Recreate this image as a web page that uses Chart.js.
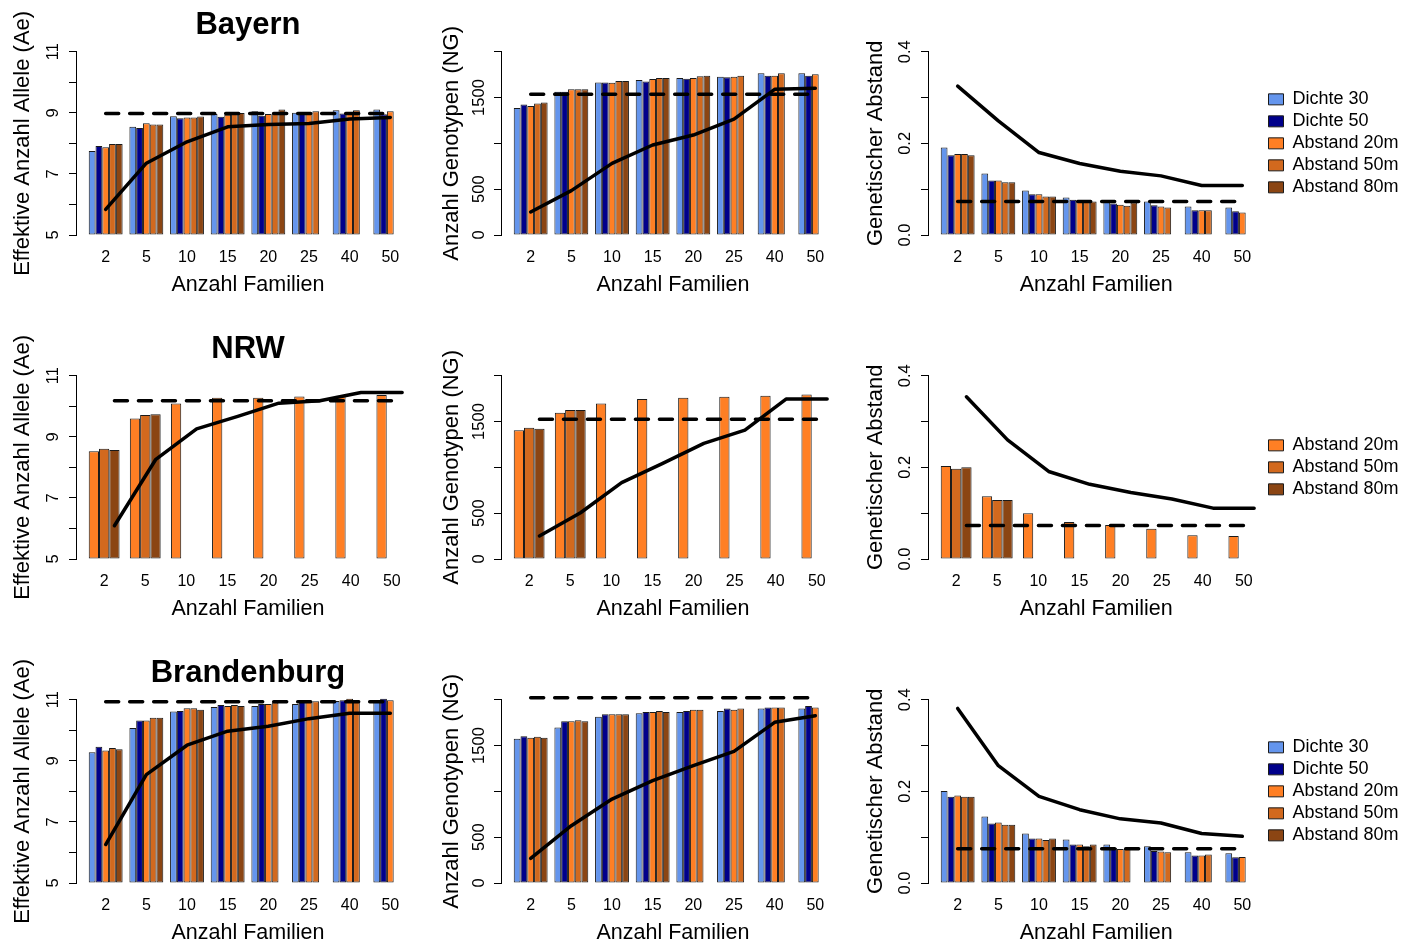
<!DOCTYPE html>
<html lang="de">
<head>
<meta charset="utf-8">
<title>Anzahl Familien – Bayern, NRW, Brandenburg</title>
<script src="https://cdn.jsdelivr.net/npm/chart.js@4.4.1/dist/chart.umd.min.js"></script>
<style>
  html, body { margin: 0; padding: 0; background: #fff; overflow: hidden; }
  canvas { position: absolute; }
</style>
</head>
<body>
<script>
// Kategorien und Reihen
const familien = ['2', '5', '10', '15', '20', '25', '40', '50'];
const serienNamen = ['Dichte 30', 'Dichte 50', 'Abstand 20m', 'Abstand 50m', 'Abstand 80m'];
const serienFarben = ['#6495ED', '#00008B', '#FF7F24', '#D2691E', '#8B4513'];

// Achsenbeschriftungen (leere Einträge = Strich ohne Zahl)
const aeTicks = ['5', '', '7', '', '9', '', '11'];
const ngTicks = ['0', '500', '', '1500', ''];
const distTicks = ['0.0', '', '0.2', '', '0.4'];

// Bayern
const bayernAe = [
  [7.75, 8.54, 8.89, 8.96, 9.05, 9.00, 9.08, 9.11],
  [7.91, 8.50, 8.82, 8.87, 8.90, 8.96, 8.98, 8.95],
  [7.87, 8.66, 8.85, 8.94, 8.96, 9.00, 9.00, 9.05],
  [7.98, 8.62, 8.85, 8.96, 9.01, 9.05, 9.08, null],
  [7.98, 8.62, 8.88, 8.99, 9.11, null, null, null]
];
const bayernAeRef = 8.98;
const bayernAeLinie = [5.84, 7.35, 8.05, 8.54, 8.62, 8.65, 8.80, 8.85];

const bayernNg = [
  [1385, 1564, 1665, 1691, 1713, 1727, 1764, 1764],
  [1425, 1564, 1665, 1676, 1705, 1720, 1738, 1738],
  [1407, 1589, 1662, 1702, 1713, 1727, 1738, 1753],
  [1436, 1589, 1680, 1713, 1731, 1738, 1764, null],
  [1447, 1589, 1680, 1713, 1738, null, null, null]
];
const bayernNgRef = 1535;
const bayernNgLinie = [251, 484, 782, 982, 1091, 1265, 1589, 1600];

const bayernDist = [
  [0.191, 0.134, 0.097, 0.082, 0.073, 0.073, 0.062, 0.060],
  [0.174, 0.119, 0.089, 0.077, 0.069, 0.065, 0.054, 0.052],
  [0.177, 0.119, 0.089, 0.075, 0.066, 0.062, 0.054, 0.049],
  [0.177, 0.115, 0.084, 0.073, 0.064, 0.060, 0.054, null],
  [0.174, 0.115, 0.084, 0.073, 0.071, null, null, null]
];
const bayernDistRef = 0.073;
const bayernDistLinie = [0.325, 0.249, 0.180, 0.156, 0.139, 0.129, 0.108, 0.108];

// NRW (nur Abstand 20m / 50m / 80m)
const nrwAe = [
  [8.53, 9.60, 10.09, 10.28, 10.28, 10.32, 10.34, 10.37],
  [8.61, 9.71, null, null, null, null, null, null],
  [8.57, 9.74, null, null, null, null, null, null]
];
const nrwAeRef = 10.18;
const nrwAeLinie = [6.09, 8.25, 9.26, 9.67, 10.10, 10.18, 10.45, 10.45];

const nrwNg = [
  [1404, 1596, 1698, 1745, 1760, 1771, 1782, 1796],
  [1433, 1625, null, null, null, null, null, null],
  [1422, 1625, null, null, null, null, null, null]
];
const nrwNgRef = 1524;
const nrwNgLinie = [251, 505, 833, 1044, 1262, 1407, 1745, 1745];

const nrwDist = [
  [0.203, 0.137, 0.100, 0.081, 0.074, 0.066, 0.052, 0.050],
  [0.197, 0.129, null, null, null, null, null, null],
  [0.200, 0.129, null, null, null, null, null, null]
];
const nrwDistRef = 0.073;
const nrwDistLinie = [0.354, 0.260, 0.191, 0.163, 0.145, 0.131, 0.111, 0.111];

// Brandenburg
const brandenburgAe = [
  [9.28, 10.07, 10.61, 10.76, 10.79, 10.86, 10.96, 10.98],
  [9.46, 10.32, 10.63, 10.83, 10.86, 10.98, 10.98, 11.03],
  [9.34, 10.32, 10.72, 10.79, 10.86, 10.96, 11.03, 10.98],
  [9.42, 10.41, 10.72, 10.83, 10.91, 10.95, 10.98, null],
  [9.38, 10.41, 10.67, 10.79, null, null, null, null]
];
const brandenburgAeRef = 10.93;
const brandenburgAeLinie = [6.26, 8.55, 9.51, 9.97, 10.13, 10.38, 10.56, 10.56];

const brandenburgNg = [
  [1575, 1698, 1815, 1851, 1865, 1876, 1905, 1905],
  [1600, 1764, 1840, 1865, 1876, 1905, 1916, 1931],
  [1585, 1764, 1840, 1865, 1891, 1891, 1916, 1916],
  [1596, 1775, 1840, 1876, 1891, 1905, 1916, null],
  [1585, 1764, 1840, 1865, null, null, null, null]
];
const brandenburgNgRef = 2022;
const brandenburgNgLinie = [269, 625, 916, 1116, 1280, 1436, 1753, 1825];

const brandenburgDist = [
  [0.201, 0.145, 0.108, 0.095, 0.084, 0.080, 0.067, 0.065],
  [0.188, 0.130, 0.097, 0.084, 0.077, 0.070, 0.060, 0.056],
  [0.191, 0.132, 0.097, 0.084, 0.074, 0.069, 0.060, 0.057],
  [0.188, 0.127, 0.094, 0.080, 0.074, 0.067, 0.062, null],
  [0.188, 0.127, 0.097, 0.084, null, null, null, null]
];
const brandenburgDistRef = 0.075;
const brandenburgDistLinie = [0.381, 0.256, 0.189, 0.160, 0.140, 0.131, 0.108, 0.102];

// Seitenaufbau
const spaltenLinks = [0, 425, 852];
const spaltenBreite = [425, 425, 554];
const zeilenOben = [0, 324, 648];
const rechtsPad = [5, 5, 4];
const yTitelPad = [9.8, 13.5, 10.6];

const messgroessen = {
  ae:   { titel: 'Effektive Anzahl Allele (Ae)', min: 5, max: 11, step: 1, ticks: aeTicks, pad: 7.2 },
  ng:   { titel: 'Anzahl Genotypen (NG)', min: 0, max: 2000, step: 500, ticks: ngTicks, pad: -3.5 },
  dist: { titel: 'Genetischer Abstand', min: 0, max: 0.4, step: 0.1, ticks: distTicks, pad: 4.2 }
};

const zeilen = [
  { titel: 'Bayern', serien: [0, 1, 2, 3, 4], xMin: -0.73, unitPx: 40.66, shift: 0,
    panels: [
      { groesse: 'ae', werte: bayernAe, ref: bayernAeRef, linie: bayernAeLinie },
      { groesse: 'ng', werte: bayernNg, ref: bayernNgRef, linie: bayernNgLinie },
      { groesse: 'dist', werte: bayernDist, ref: bayernDistRef, linie: bayernDistLinie }
    ] },
  { titel: 'NRW', serien: [2, 3, 4], xMin: -0.685, unitPx: 41.1, shift: 0.25,
    panels: [
      { groesse: 'ae', werte: nrwAe, ref: nrwAeRef, linie: nrwAeLinie },
      { groesse: 'ng', werte: nrwNg, ref: nrwNgRef, linie: nrwNgLinie },
      { groesse: 'dist', werte: nrwDist, ref: nrwDistRef, linie: nrwDistLinie }
    ] },
  { titel: 'Brandenburg', serien: [0, 1, 2, 3, 4], xMin: -0.73, unitPx: 40.66, shift: 0,
    panels: [
      { groesse: 'ae', werte: brandenburgAe, ref: brandenburgAeRef, linie: brandenburgAeLinie },
      { groesse: 'ng', werte: brandenburgNg, ref: brandenburgNgRef, linie: brandenburgNgLinie },
      { groesse: 'dist', werte: brandenburgDist, ref: brandenburgDistRef, linie: brandenburgDistLinie }
    ] }
];

Chart.defaults.font.family = "'Liberation Sans', Arial, Helvetica, sans-serif";
Chart.defaults.color = '#000';
Chart.defaults.animation = false;

/**
 * Ein Panel: gruppierte Balken, durchgezogene Linie, gestrichelte Referenz
 */
function zeichnePanel(zeile, panel, r, c) {
  const canvas = document.createElement('canvas');
  canvas.width = spaltenBreite[c];
  canvas.height = 300;
  canvas.style.left = spaltenLinks[c] + 'px';
  canvas.style.top = zeilenOben[r] + 'px';
  document.body.appendChild(canvas);

  const m = messgroessen[panel.groesse];
  const nSerien = zeile.serien.length;
  const letzte = familien.length - 1;

  const datasets = panel.werte.map((reihe, k) => ({
    label: serienNamen[zeile.serien[k]],
    data: reihe.map((v, i) => ({ x: i, y: v })),
    backgroundColor: serienFarben[zeile.serien[k]],
    borderColor: '#1a1a1a',
    borderWidth: 1,
    borderSkipped: false,
    base: m.min,
    categoryPercentage: nSerien / (nSerien + 1),
    barPercentage: 1,
    order: 1,
    clip: false
  }));

  datasets.push({
    type: 'line',
    data: panel.linie.map((v, i) => ({ x: i + zeile.shift, y: v })),
    borderColor: '#000',
    borderWidth: 3.5,
    borderJoinStyle: 'round',
    borderCapStyle: 'round',
    pointRadius: 0,
    tension: 0,
    order: 0,
    clip: false
  });

  datasets.push({
    type: 'line',
    data: [{ x: zeile.shift, y: panel.ref }, { x: letzte + zeile.shift, y: panel.ref }],
    borderColor: '#000',
    borderWidth: 3.5,
    borderDash: [13, 11],
    borderCapStyle: 'round',
    pointRadius: 0,
    order: 0,
    clip: false
  });

  const mitTitel = c === 0;
  const mitLegende = c === 2;

  const chart = new Chart(canvas.getContext('2d'), {
    type: 'bar',
    data: { datasets: datasets },
    options: {
      responsive: false,
      events: [],
      layout: {
        padding: { left: 0, right: rechtsPad[c], top: mitTitel ? 0 : 51.7, bottom: 0 }
      },
      plugins: {
        title: {
          display: mitTitel,
          text: zeile.titel,
          fullSize: false,
          color: '#000',
          font: { size: 31, weight: 'bold' },
          padding: { top: 7, bottom: 7.5 }
        },
        legend: {
          display: mitLegende,
          position: 'right',
          align: 'center',
          fullSize: false,
          labels: {
            boxWidth: 15,
            boxHeight: 11,
            padding: 4,
            color: '#000',
            font: { size: 18 },
            filter: item => item.datasetIndex < nSerien
          }
        },
        tooltip: { enabled: false }
      },
      scales: {
        x: {
          type: 'linear',
          offset: false,
          min: zeile.xMin,
          max: zeile.xMin + 344 / zeile.unitPx,
          afterBuildTicks: scale => {
            scale.ticks = familien.map((f, i) => ({ value: i }));
          },
          afterFit: scale => { scale.height = 65; },
          ticks: {
            autoSkip: false,
            maxRotation: 0,
            padding: 5,
            color: '#000',
            font: { size: 16 },
            callback: v => familien[v]
          },
          grid: { display: false },
          border: { display: false },
          title: {
            display: true,
            text: 'Anzahl Familien',
            color: '#000',
            font: { size: 21.5 },
            padding: { top: 0, bottom: 2 }
          }
        },
        y: {
          min: m.min,
          max: m.max,
          afterFit: scale => { scale.width = 76; },
          ticks: {
            stepSize: m.step,
            autoSkip: false,
            minRotation: 90,
            maxRotation: 90,
            crossAlign: 'center',
            padding: m.pad,
            color: '#000',
            font: { size: 16.5 },
            callback: (v, i) => m.ticks[i]
          },
          grid: {
            drawOnChartArea: false,
            drawTicks: true,
            tickLength: 7,
            tickColor: '#000',
            tickWidth: 1
          },
          border: { display: true, color: '#000', width: 1 },
          title: {
            display: true,
            text: m.titel,
            color: '#000',
            font: { size: 22 },
            padding: { top: yTitelPad[c], bottom: 0 }
          }
        }
      }
    }
  });

  // gleiche Gruppenbreite in allen Spalten (Legende nimmt rechts Platz weg)
  const breite = chart.chartArea.right - chart.chartArea.left;
  chart.options.scales.x.max = zeile.xMin + breite / zeile.unitPx;
  chart.update();
}

zeilen.forEach((zeile, r) => {
  zeile.panels.forEach((panel, c) => zeichnePanel(zeile, panel, r, c));
});
</script>
</body>
</html>
